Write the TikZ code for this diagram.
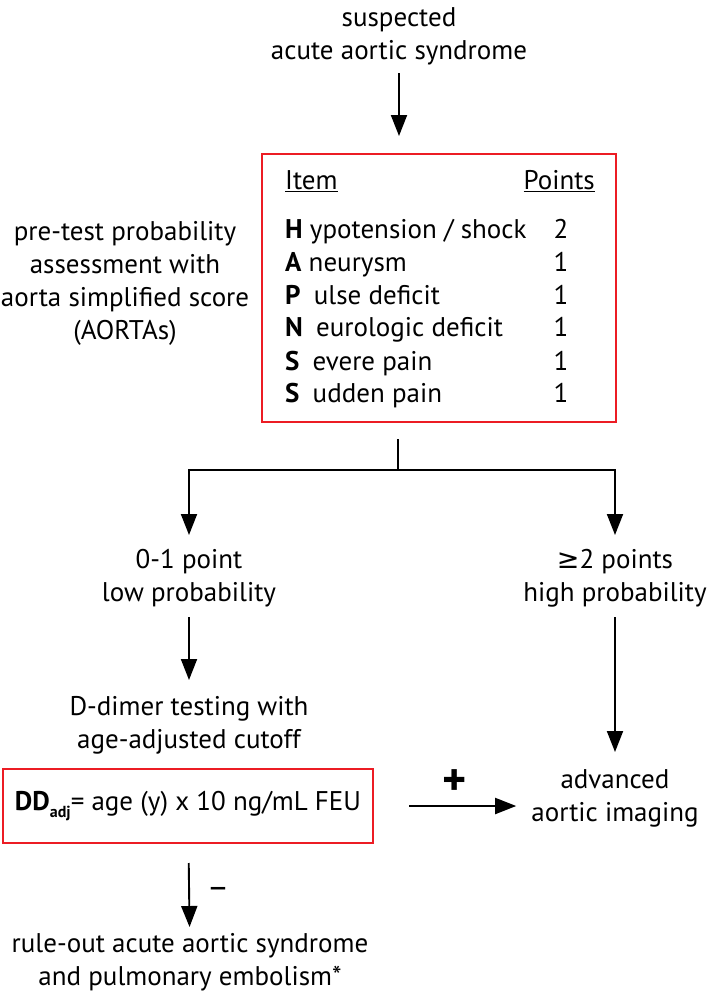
\documentclass[tikz,border=0pt]{standalone}
\usepackage{fontspec}
\setmainfont{PT Sans}
\newfontfamily\symf{DejaVu Sans}
\usetikzlibrary{arrows.meta}
\definecolor{boxred}{RGB}{236,28,36}
\begin{document}
\begin{tikzpicture}[x=1pt,y=-1pt,
  txt/.style={font=\fontsize{27}{33}\selectfont, align=center, inner sep=0pt},
  arr/.style={line width=1.9pt, -{Triangle[length=21pt,width=16pt]}},
  ln/.style={line width=1.9pt},
  redbox/.style={draw=boxred, line width=2pt, inner sep=0pt},
]
\useasboundingbox (0,0) rectangle (709,998);
% title
\node[txt] (title) at (399,36) {suspected\\acute aortic syndrome};
% score box
\node[redbox, minimum width=354pt, minimum height=268pt] (score) at (439,288) {};
\node[txt, anchor=base west] (item) at (285,189) {\underline{Item}};
\node[txt, anchor=base east] (points) at (595,189) {\underline{Points}};
\node[txt, anchor=base west] (rH) at (285,238) {\textbf{H} ypotension / shock};
\node[txt, anchor=base west] (rA) at (285,271) {\textbf{A} neurysm};
\node[txt, anchor=base west] (rP) at (285,304) {\textbf{P}\hspace{6pt} ulse deficit};
\node[txt, anchor=base west] (rN) at (285,336) {\textbf{N}\hspace{6pt} eurologic deficit};
\node[txt, anchor=base west] (rS) at (285,370) {\textbf{S}\hspace{6pt} evere pain};
\node[txt, anchor=base west] (rS2) at (285,402) {\textbf{S}\hspace{6pt} udden pain};
\node[txt, anchor=base] (pH) at (561,238) {2};
\node[txt, anchor=base] (pA) at (561,271) {1};
\node[txt, anchor=base] (pP) at (561,304) {1};
\node[txt, anchor=base] (pN) at (561,336) {1};
\node[txt, anchor=base] (pS) at (561,370) {1};
\node[txt, anchor=base] (pS2) at (561,402) {1};
% left description
\node[txt] (pre) at (125,283) {pre-test probability\\assessment with\\aorta simplified score\\(AORTAs)};
% outcome nodes
\node[txt] (low) at (189,578) {0-1 point\\low probability};
\node[txt] (high) at (615,578) {{\symf ≥}2 points\\high probability};
\node[txt] (ddt) at (189,725) {D-dimer testing with\\age-adjusted cutoff};
\node[redbox, minimum width=370pt, minimum height=74pt, font=\fontsize{27}{33}\selectfont] (dd) at (188,806)
  {\textbf{DD}\raisebox{-7pt}{\fontsize{16}{16}\selectfont\textbf{adj}}= age (y) x 10 ng/mL FEU};
\node[txt] (adv) at (615,798) {advanced\\aortic imaging};
\node[txt] (rule) at (190,962) {rule-out acute aortic syndrome\\and pulmonary embolism*};
\node[txt, font=\fontsize{46}{46}\selectfont\bfseries] (plus) at (455,783) {+};
\node[txt, font=\fontsize{34}{34}\selectfont] (minus) at (218,893) {–};
% connectors
\draw[arr, shorten <=37pt, shorten >=17pt] (title.center) -- (title.center |- score.north);
\coordinate (stub) at (398,439);
\coordinate (fork) at (398,470);
\coordinate (ltip) at (189,535);
\coordinate (rtip) at (615,535);
\draw[ln] (stub) -- (fork);
\draw[arr] (fork) -| (ltip);
\draw[arr] (fork) -| (rtip);
\draw[arr, shorten <=39pt, shorten >=45pt] (low.center) -- (ddt.center);
\draw[arr, shorten <=39pt, shorten >=46pt] (high.center) -- (adv.center);
\draw[arr, shorten <=35pt, shorten >=15pt] (dd.east) -- (dd.east -| adv.west);
\draw[arr, shorten <=57pt, shorten >=35pt] (dd.center) -- (rule.center);
\end{tikzpicture}
\end{document}
